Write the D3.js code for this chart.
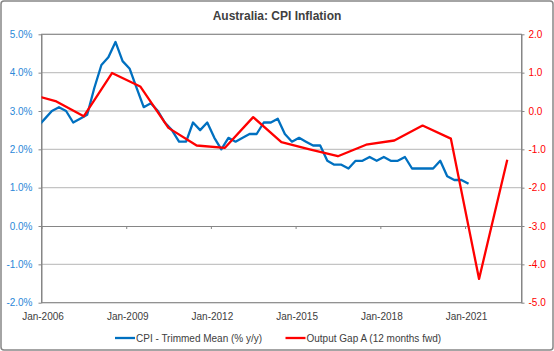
<!doctype html>
<html lang="en">
<head>
<meta charset="UTF-8">
<title>Australia: CPI Inflation</title>
<style>
    body{margin:0;background:#fff;}
    text{font-family:"Liberation Sans",Arial,sans-serif;}
    .grid{stroke:#c4c4c4;stroke-width:1.3;}
    .line{fill:none;stroke-width:2.3;stroke-linejoin:round;}
</style>
</head>
<body>
<svg width="554" height="351"></svg>
<script src="https://cdn.jsdelivr.net/npm/d3@7/dist/d3.min.js"></script>
<script>
// CPI trimmed mean, % y/y, quarterly. First value is Dec-2005 (only runs in from the left edge)
var cpiFirstQuarter = [2005, 12];
var cpiValues = [2.6,
    2.8, 3.0, 3.1, 3.0, 2.7, 2.8, 2.9, 3.6, 4.2, 4.4, 4.8, 4.3,
    4.1, 3.6, 3.1, 3.2, 3.0, 2.7, 2.5, 2.2, 2.2, 2.7, 2.5, 2.7,
    2.3, 2.0, 2.3, 2.2, 2.3, 2.4, 2.4, 2.7, 2.7, 2.8, 2.4, 2.2,
    2.3, 2.2, 2.1, 2.1, 1.7, 1.6, 1.6, 1.5, 1.7, 1.7, 1.8, 1.7,
    1.8, 1.7, 1.7, 1.8, 1.5, 1.5, 1.5, 1.5, 1.7, 1.3, 1.2, 1.2,
    1.1];

// Output gap A (12 months fwd), annual
var gapYears = [2005, 2006, 2007, 2008, 2009, 2010, 2011, 2012, 2013,
    2014, 2015, 2016, 2017, 2018, 2019, 2020, 2021, 2022];
var gapValues = [0.46, 0.26, -0.14, 0.99, 0.64, -0.44, -0.9, -0.96, -0.16,
    -0.81, -1.0, -1.18, -0.88, -0.77, -0.38, -0.72, -4.38, -1.27];

var leftTicks = [-2, -1, 0, 1, 2, 3, 4, 5];
var rightTicks = [-5, -4, -3, -2, -1, 0, 1, 2];
var xTickYears = [2006, 2009, 2012, 2015, 2018, 2021];

var blue = '#0070c0', blueText = '#2b88d8', red = '#ff0000', ink = '#404040', frame = '#868686';

var svg = d3.select('svg'),
    plot = {left: 41.5, right: 521.5, top: 34.3, bottom: 302.7};

var x = d3.scaleTime()
    .domain([new Date(2006, 0, 1), new Date(2023, 0, 1)])
    .range([plot.left, plot.right]);
var yL = d3.scaleLinear().domain([-2, 5]).range([plot.bottom, plot.top]);
var yR = d3.scaleLinear().domain([-5, 2]).range([plot.bottom, plot.top]);

// chart border
svg.append('rect')
    .attr('x', 1).attr('y', 1).attr('width', 552).attr('height', 349)
    .attr('rx', 3)
    .attr('fill', '#fff').attr('stroke', frame).attr('stroke-width', 1.5);

svg.append('text')
    .attr('x', 277).attr('y', 20)
    .attr('text-anchor', 'middle')
    .attr('font-size', '12px').attr('font-weight', 'bold')
    .attr('fill', ink)
    .text('Australia: CPI Inflation');

// gridlines
svg.append('g').selectAll('line')
    .data(leftTicks.filter(function(d) { return d !== 0; }))
    .enter().append('line')
    .attr('class', 'grid')
    .attr('x1', plot.left).attr('x2', plot.right)
    .attr('y1', function(d) { return yL(d); })
    .attr('y2', function(d) { return yL(d); });

// top and bottom frame of the plot
svg.append('rect')
    .attr('x', plot.left).attr('y', plot.top)
    .attr('width', plot.right - plot.left).attr('height', plot.bottom - plot.top)
    .attr('fill', 'none').attr('stroke', frame).attr('stroke-width', 1);

// horizontal axis on the zero line, tick marks only
var zeroAxis = svg.append('g')
    .attr('transform', 'translate(0,' + yL(0) + ')')
    .call(d3.axisBottom(x)
        .tickValues(xTickYears.map(function(d) { return new Date(d, 0, 1); }))
        .tickSize(3).tickSizeOuter(0).tickFormat(''));
zeroAxis.selectAll('path,line').attr('stroke', frame);

// date labels along the bottom
var labelAxis = svg.append('g')
    .attr('transform', 'translate(1,' + plot.bottom + ')')
    .call(d3.axisBottom(x)
        .tickValues(xTickYears.map(function(d) { return new Date(d, 0, 1); }))
        .tickSize(0).tickPadding(10)
        .tickFormat(d3.timeFormat('%b-%Y')));
labelAxis.select('.domain').remove();
labelAxis.selectAll('text')
    .attr('font-size', '10px').attr('font-family', '"Liberation Sans",Arial,sans-serif')
    .attr('fill', ink);

var left = svg.append('g')
    .attr('transform', 'translate(' + plot.left + ',0)')
    .call(d3.axisLeft(yL).tickValues(leftTicks).tickSize(3).tickSizeOuter(0).tickPadding(6)
        .tickFormat(function(d) { return d.toFixed(1) + '%'; }));
left.selectAll('path,line').attr('stroke', frame);
left.selectAll('text')
    .attr('font-size', '10px').attr('font-family', '"Liberation Sans",Arial,sans-serif')
    .attr('fill', blueText);

var right = svg.append('g')
    .attr('transform', 'translate(' + plot.right + ',0)')
    .call(d3.axisRight(yR).tickValues(rightTicks).tickSize(3).tickSizeOuter(0).tickPadding(4)
        .tickFormat(function(d) { return d.toFixed(1); }));
right.selectAll('path,line').attr('stroke', frame);
right.selectAll('text')
    .attr('font-size', '10px').attr('font-family', '"Liberation Sans",Arial,sans-serif')
    .attr('fill', red);

// series
svg.append('clipPath').attr('id', 'plot-clip')
    .append('rect')
    .attr('x', plot.left).attr('y', plot.top)
    .attr('width', plot.right - plot.left).attr('height', plot.bottom - plot.top);

var cpiLine = d3.line()
    .x(function(d, i) {
        // middle of each quarter
        return x(new Date(cpiFirstQuarter[0], cpiFirstQuarter[1] - 2 + 3 * i, 15));
    })
    .y(function(d) { return yL(d); });

var gapLine = d3.line()
    .x(function(d, i) { return x(new Date(gapYears[i], 6, 1)); })
    .y(function(d) { return yR(d); });

var series = svg.append('g').attr('clip-path', 'url(#plot-clip)');
series.append('path')
    .datum(cpiValues)
    .attr('class', 'line')
    .attr('stroke', blue)
    .attr('d', cpiLine);
series.append('path')
    .datum(gapValues)
    .attr('class', 'line')
    .attr('stroke', red)
    .attr('d', gapLine);

// legend
var legend = [
    {name: 'CPI - Trimmed Mean (% y/y)', color: blue, x: 115},
    {name: 'Output Gap A (12 months fwd)', color: red, x: 285.5}
];
var item = svg.selectAll('.legend')
    .data(legend)
    .enter().append('g')
    .attr('class', 'legend')
    .attr('transform', function(d) { return 'translate(' + d.x + ',338)'; });
item.append('line')
    .attr('x1', 0).attr('x2', 20)
    .attr('stroke', function(d) { return d.color; })
    .attr('stroke-width', 2.3);
item.append('text')
    .attr('x', 21).attr('y', 3.6)
    .attr('font-size', '10px')
    .attr('fill', ink)
    .text(function(d) { return d.name; });
</script>
</body>
</html>
